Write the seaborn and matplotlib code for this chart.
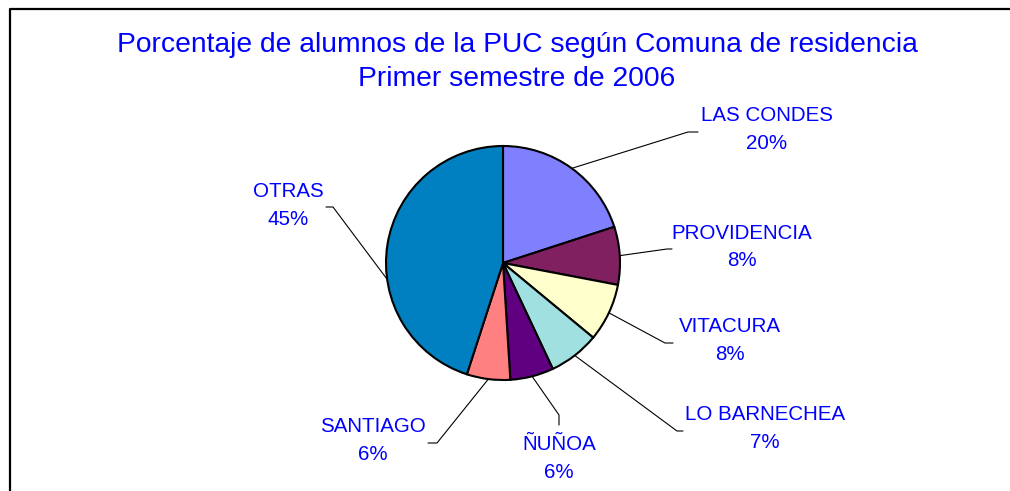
import matplotlib
matplotlib.use('Agg')
import matplotlib.pyplot as plt
import seaborn as sns
import numpy as np

comunas = ['LAS CONDES', 'PROVIDENCIA', 'VITACURA', 'LO BARNECHEA', 'ÑUÑOA', 'SANTIAGO', 'OTRAS']
porcentajes = [20, 8, 8, 7, 6, 6, 45]
colores = ['#8080FF', '#802060', '#FFFFCC', '#A0E0E0', '#600080', '#FF8080', '#0080C0']

titulo = 'Porcentaje de alumnos de la PUC según Comuna de residencia\nPrimer semestre de 2006'

# layout (pixel coords, y measured from top of image)
W, H = 1010, 491
cx, cy, r = 503, 263, 117
label_xy = [(767, 129), (742, 247), (730, 340), (765, 428), (559, 458), (373, 441), (288, 205)]
elbow = [[(688, 132), (698, 132)],
         [(667, 249), (672, 249)],
         [(665, 343), (673, 343)],
         [(677, 431), (683, 431)],
         [(559, 415), (559, 425)],
         [(437, 443), (428, 443)],
         [(333, 207), (326, 207)]]
anchor_shift = [0, 0, 0, 0, 0, 0, 17]  # degrees

sns.set_theme(style='white')
plt.rcParams['font.family'] = ['Liberation Sans', 'DejaVu Sans']

fig = plt.figure(figsize=(W / 100, H / 100), dpi=100)
ax = fig.add_axes([0, 0, 1, 1])

ax.pie(porcentajes, colors=colores, center=(cx, H - cy), radius=r,
       startangle=90, counterclock=False,
       wedgeprops=dict(edgecolor='black', linewidth=1.5))
ax.set_xlim(0, W)
ax.set_ylim(0, H)
ax.set_aspect('auto')
ax.axis('off')

# leader lines and labels
total = sum(porcentajes)
acc = 0
for i, (name, val) in enumerate(zip(comunas, porcentajes)):
    mid = 90 - 360 * (acc + val / 2) / total + anchor_shift[i]
    acc += val
    ax_x = cx + r * np.cos(np.radians(mid))
    ax_y = (H - cy) + r * np.sin(np.radians(mid))
    xs = [ax_x] + [p[0] for p in elbow[i]]
    ys = [ax_y] + [H - p[1] for p in elbow[i]]
    ax.plot(xs, ys, color='black', linewidth=0.8)
    lx, ly = label_xy[i]
    ax.text(lx, H - ly, f'{name}\n{val}%', ha='center', va='center',
            color='#0000FF', fontsize=14.8, linespacing=1.6)

ax.text(517, H - 62, titulo, ha='center', va='center', color='#0000FF',
        fontsize=20.3, linespacing=1.4)

# border
ax.plot([10, 10, W], [0, H - 9, H - 9], color='black', linewidth=1.6,
        solid_capstyle='butt')

fig.savefig('out.png', dpi=100)
